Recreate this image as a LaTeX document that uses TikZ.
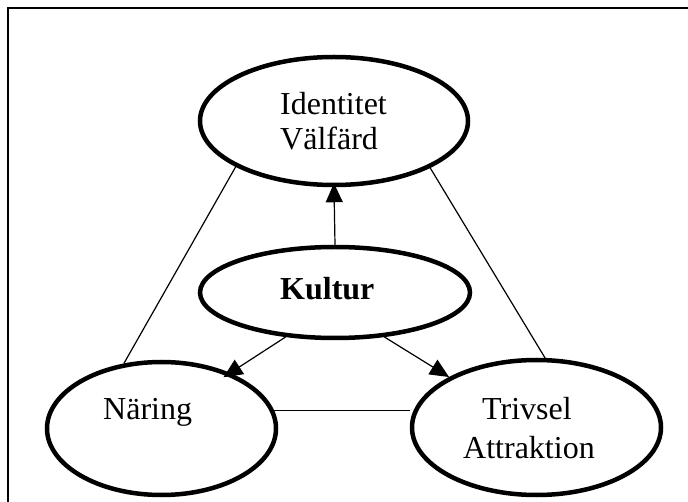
\documentclass[tikz,border=0pt]{standalone}
\usepackage{fontspec}
\setmainfont{Liberation Serif}
\usetikzlibrary{shapes.geometric,arrows.meta}
\begin{document}
\begin{tikzpicture}[x=1pt,y=-1pt,
  oval/.style={draw=black, line width=4.5pt, ellipse, inner sep=0pt, fill=white},
  thin/.style={draw=black, line width=1.2pt},
  arr/.style={thin, -{Triangle[length=19pt,width=17pt]}},
  lbl/.style={inner sep=0pt, anchor=base west, font=\fontsize{32}{36}\selectfont}
]
\useasboundingbox (0,0) rectangle (688,502);
\fill[white] (0,0) rectangle (688,502);
% frame (cropped at right and bottom)
\draw[line width=1.6pt] (8,502) -- (8,8) -- (688,8);

\node[oval, minimum width=268pt, minimum height=128pt] (ident) at (334,121) {};
\node[oval, minimum width=270pt, minimum height=91pt] (kultur) at (335,292.5) {};
\node[oval, minimum width=229pt, minimum height=133pt] (naring) at (161.5,428.5) {};
\node[oval, minimum width=249pt, minimum height=135pt] (trivsel) at (536.5,427.5) {};

\node[lbl] (t1) at (280,115) {Identitet};
\node[lbl] (t2) at (280,150) {Välfärd};
\node[lbl, font=\fontsize{32}{36}\selectfont\bfseries] (t3) at (280,300) {Kultur};
\node[lbl] (t4) at (103,420) {Näring};
\node[lbl] (t5) at (482,420) {Trivsel};
\node[lbl] (t6) at (463,458) {Attraktion};

% connectors
\draw[arr, shorten >=-4pt] (kultur.north) -- (ident.south);
\draw[arr, shorten >=-8pt] (kultur.222) -- (naring.39);
\draw[arr] (kultur.318) -- (trivsel.150.6);
\draw[thin] (ident.205) -- (naring.120);
\draw[thin] (ident.334) -- (trivsel.83);
\draw[thin] (naring.9) -- (naring.9 -| trivsel.west);
\end{tikzpicture}
\end{document}
